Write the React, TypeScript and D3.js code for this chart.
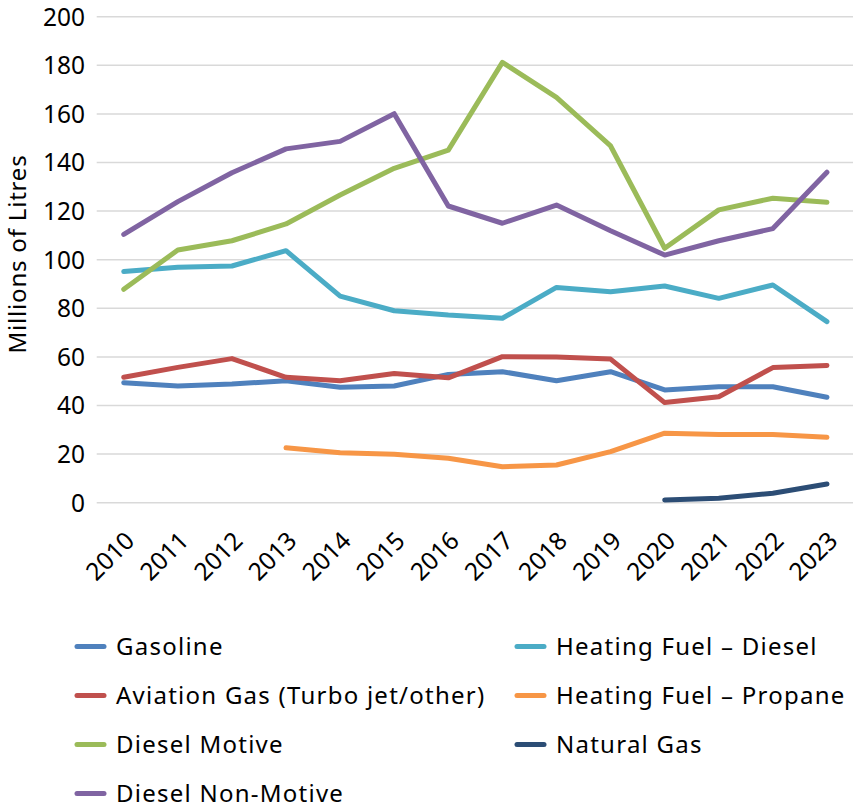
import React from "react";
import * as d3 from "d3";

const years = [2010, 2011, 2012, 2013, 2014, 2015, 2016, 2017, 2018, 2019, 2020, 2021, 2022, 2023];
const yTicks = [0, 20, 40, 60, 80, 100, 120, 140, 160, 180, 200];

const gasoline = [49.4, 48.0, 48.8, 50.2, 47.5, 48.0, 52.8, 53.9, 50.2, 53.9, 46.4, 47.7, 47.7, 43.4];
const aviation = [51.6, 55.7, 59.3, 51.6, 50.2, 53.2, 51.4, 60.1, 60.0, 59.1, 41.2, 43.6, 55.6, 56.5];
const dieselMotive = [87.8, 104.0, 107.8, 114.7, 126.6, 137.6, 145.1, 181.2, 166.8, 146.8, 104.7, 120.5, 125.3, 123.6];
const dieselNonMotive = [110.4, 123.9, 135.8, 145.6, 148.7, 160.1, 122.1, 115.0, 122.5, 111.9, 101.9, 107.8, 112.8, 136.0];
const heatingDiesel = [95.1, 96.9, 97.4, 103.7, 85.0, 79.0, 77.2, 75.9, 88.6, 86.8, 89.2, 84.1, 89.6, 74.5];
const heatingPropane = [null, null, null, 22.6, 20.6, 19.9, 18.3, 14.8, 15.5, 21.0, 28.6, 28.1, 28.1, 26.9];
const naturalGas = [null, null, null, null, null, null, null, null, null, null, 1.1, 1.8, 3.9, 7.7];

const series = [
  { name: "Gasoline", values: gasoline, color: "#4F81BD" },
  { name: "Aviation Gas (Turbo jet/other)", values: aviation, color: "#C0504D" },
  { name: "Diesel Motive", values: dieselMotive, color: "#9BBB59" },
  { name: "Diesel Non-Motive", values: dieselNonMotive, color: "#8064A2" },
  { name: "Heating Fuel \u2013 Diesel", values: heatingDiesel, color: "#4BACC6" },
  { name: "Heating Fuel \u2013 Propane", values: heatingPropane, color: "#F79646" },
  { name: "Natural Gas", values: naturalGas, color: "#2C4D75" },
];

const drawOrder = [4, 0, 1, 5, 6, 2, 3];

const legendLayout = [
  { idx: 0, col: 0, row: 0 },
  { idx: 4, col: 1, row: 0 },
  { idx: 1, col: 0, row: 1 },
  { idx: 5, col: 1, row: 1 },
  { idx: 2, col: 0, row: 2 },
  { idx: 6, col: 1, row: 2 },
  { idx: 3, col: 0, row: 3 },
];

export default function App() {
  const W = 853, H = 809;
  const font = "'Noto Sans', 'Open Sans', sans-serif";
  const x = d3.scalePoint<number>().domain(years).range([96.7, 854]).padding(0.5);
  const y = d3.scaleLinear().domain([0, 200]).range([502.7, 16.7]);
  const line = d3
    .line<number | null>()
    .defined((d) => d !== null)
    .x((_, i) => x(years[i]) as number)
    .y((d) => y(d as number));

  return (
    <svg width={W} height={H} style={{ position: "absolute", left: 0, top: 0, background: "#fff" }} fontFamily={font}>
      <rect width={W} height={H} fill="#fff" />
      {yTicks.map((t) => (
        <g key={t}>
          <line x1={96.7} x2={854} y1={y(t)} y2={y(t)} stroke="#d9d9d9" strokeWidth={1.5} />
          <text x={85} y={y(t)} dy="0.36em" textAnchor="end" fontSize={24.5} fill="#000">
            {t}
          </text>
        </g>
      ))}
      <text
        transform={`translate(26,254) rotate(-90)`}
        textAnchor="middle"
        fontSize={24}
        letterSpacing={0.8}
        fill="#000"
      >
        Millions of Litres
      </text>
      {years.map((yr) => (
        <text
          key={yr}
          transform={`translate(${(x(yr) as number) + 6},${536}) rotate(-45)`}
          textAnchor="end"
          dy="0.36em"
          fontSize={24.5}
          fill="#000"
        >
          {yr}
        </text>
      ))}
      {drawOrder.map((i) => (
        <path
          key={series[i].name}
          d={line(series[i].values) || ""}
          fill="none"
          stroke={series[i].color}
          strokeWidth={5}
          strokeLinecap="round"
          strokeLinejoin="round"
        />
      ))}
      {legendLayout.map(({ idx, col, row }) => {
        const lx = col === 0 ? 77 : 517;
        const ty = 646.5 + row * 49;
        return (
          <g key={idx}>
            <line x1={lx} x2={lx + 27} y1={ty} y2={ty} stroke={series[idx].color} strokeWidth={5} strokeLinecap="round" />
            <text x={lx + 39} y={ty} dy="0.34em" fontSize={24} letterSpacing={1.25} fill="#000">
              {series[idx].name}
            </text>
          </g>
        );
      })}
    </svg>
  );
}
